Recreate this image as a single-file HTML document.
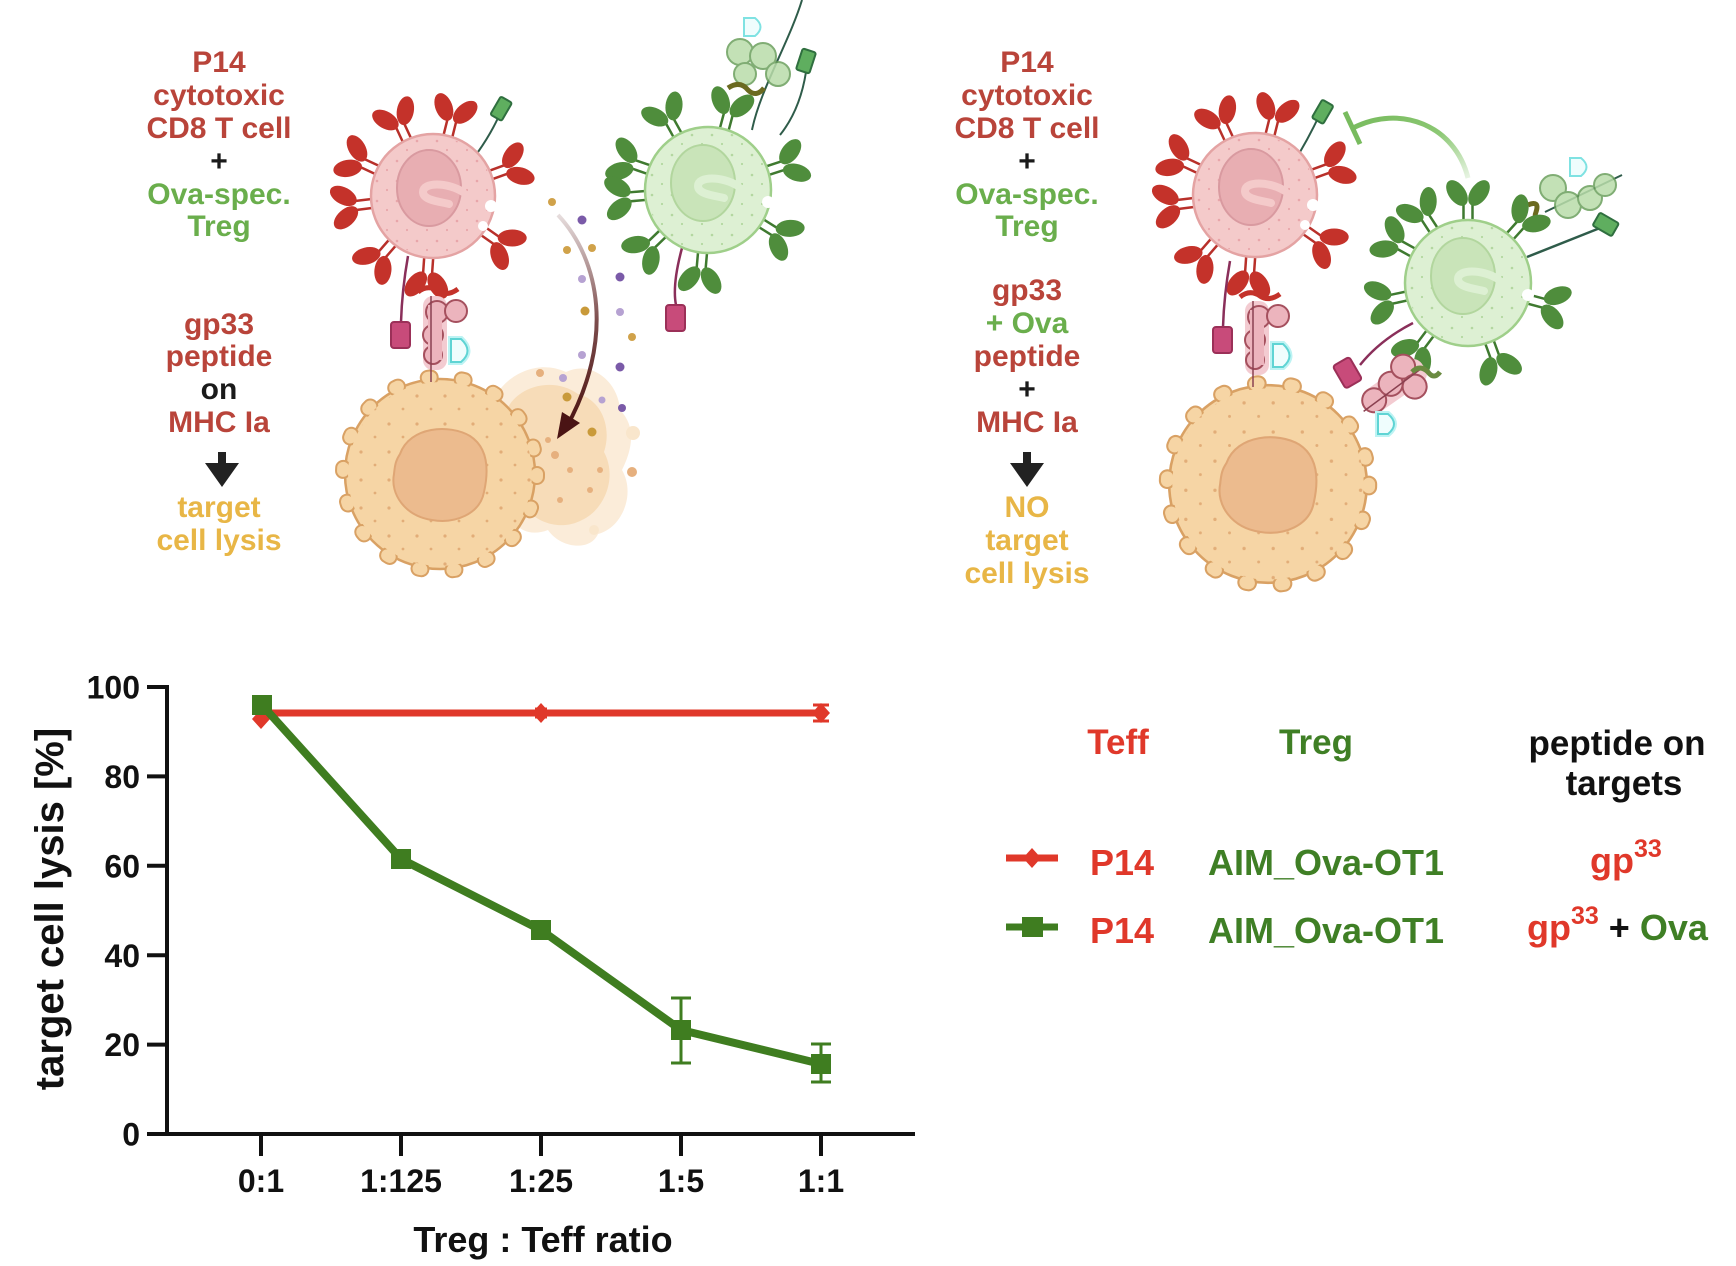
<!DOCTYPE html>
<html>
<head>
<meta charset="utf-8">
<style>
  html,body{margin:0;padding:0;background:#fff;}
  svg{display:block;}
</style>
</head>
<body>
<svg width="1736" height="1266" viewBox="0 0 1736 1266" xmlns="http://www.w3.org/2000/svg" font-family="'Liberation Sans', Arial, sans-serif" font-weight="bold">
<defs>
  <pattern id="pd" width="20" height="20" patternUnits="userSpaceOnUse"><circle cx="4" cy="5" r="1.3" fill="#e8a6aa"/><circle cx="14" cy="14" r="1.1" fill="#e8a6aa"/></pattern>
  <pattern id="pg" width="20" height="20" patternUnits="userSpaceOnUse"><circle cx="4" cy="5" r="1.3" fill="#b3d7a0"/><circle cx="14" cy="14" r="1.1" fill="#b3d7a0"/></pattern>
  <pattern id="pt" width="28" height="28" patternUnits="userSpaceOnUse"><circle cx="5" cy="6" r="1.6" fill="#e2ad78"/><circle cx="19" cy="19" r="1.4" fill="#e2ad78"/></pattern>
  <g id="abR">
    <rect x="-4.5" y="-20" width="9" height="20" fill="#fff"/>
    <path d="M-4.5,0 L-4.5,-20 M4.5,0 L4.5,-20" stroke="#b8302a" stroke-width="2.5" fill="none"/>
    <ellipse cx="-11" cy="-32" rx="8.5" ry="14.5" transform="rotate(-35 -11 -32)" fill="#c4322a"/>
    <ellipse cx="11" cy="-32" rx="8.5" ry="14.5" transform="rotate(35 11 -32)" fill="#c4322a"/>
  </g>
  <g id="abG">
    <rect x="-4.5" y="-20" width="9" height="20" fill="#fff"/>
    <path d="M-4.5,0 L-4.5,-20 M4.5,0 L4.5,-20" stroke="#3f7a30" stroke-width="2.5" fill="none"/>
    <ellipse cx="-11" cy="-32" rx="8.5" ry="14.5" transform="rotate(-35 -11 -32)" fill="#4f8d3c"/>
    <ellipse cx="11" cy="-32" rx="8.5" ry="14.5" transform="rotate(35 11 -32)" fill="#4f8d3c"/>
  </g>
  <g id="teff">
    <circle r="62" fill="#f4caca" stroke="#e4a3a3" stroke-width="2.5"/>
    <circle r="60" fill="url(#pd)"/>
    <ellipse cx="-4" cy="-8" rx="32" ry="38" fill="#e8aeb2" stroke="#d99aa0" stroke-width="2"/>
    <path d="M 30 -4 C 14 -14, -10 -14, -10 -4 C -10 5, 10 6, 16 8" stroke="#f4caca" stroke-width="8" fill="none" stroke-linecap="round"/>
    <circle cx="58" cy="10" r="6" fill="#fff"/>
    <circle cx="50" cy="30" r="5" fill="#fff"/>
  </g>
  <g id="treg">
    <circle r="63" fill="#ddf0d3" stroke="#9fcf8a" stroke-width="2.5"/>
    <circle r="61" fill="url(#pg)"/>
    <ellipse cx="-5" cy="-7" rx="32" ry="38" fill="#c9e4b9" stroke="#b2d69e" stroke-width="2"/>
    <path d="M 30 -4 C 14 -14, -10 -14, -10 -4 C -10 5, 10 6, 16 8" stroke="#ddf0d3" stroke-width="8" fill="none" stroke-linecap="round"/>
    <circle cx="60" cy="12" r="6" fill="#fff"/>
  </g>
  <g id="target">
    <circle r="95" fill="#f6d5a5" stroke="#d9a164" stroke-width="2.5"/>
    <circle r="97" fill="none" stroke="#d9a164" stroke-width="16" stroke-dasharray="3 31.2" stroke-linecap="round"/>
    <circle r="97" fill="none" stroke="#f6d5a5" stroke-width="12" stroke-dasharray="3 31.2" stroke-linecap="round"/>
    <circle r="92" fill="#f6d5a5"/>
    <circle r="92" fill="url(#pt)"/>
    <path d="M -40 -20 C -30 -48, 10 -50, 30 -38 C 50 -25, 48 0, 44 18 C 40 40, 15 50, -8 46 C -35 42, -50 20, -46 0 C -45 -10, -44 -14, -40 -20 Z" fill="#ecbb8e" stroke="#dfa675" stroke-width="2"/>
  </g>
  <g id="mhc">
    <rect x="423" y="296" width="24" height="74" rx="10" fill="#f3cbd1"/>
    <circle cx="437" cy="312" r="11" fill="#ecb4bd" stroke="#a5505e" stroke-width="2"/>
    <circle cx="456" cy="311" r="11" fill="#ecb4bd" stroke="#a5505e" stroke-width="2"/>
    <circle cx="433" cy="335" r="10" fill="#ecb4bd" stroke="#a5505e" stroke-width="2"/>
    <circle cx="433" cy="355" r="9" fill="#ecb4bd" stroke="#a5505e" stroke-width="2"/>
    <rect x="428" y="305" width="14" height="55" fill="#ecb4bd"/>
    <line x1="431" y1="296" x2="431" y2="382" stroke="#8a4050" stroke-width="1.5"/>
    <path d="M 418 292 Q 428 284 438 291 Q 447 297 458 289" stroke="#c4322a" stroke-width="5" fill="none"/>
    <path d="M 408 256 Q 402 290 401 322" stroke="#8a2f5a" stroke-width="2.5" fill="none"/>
    <rect x="391" y="322" width="19" height="26" rx="3" fill="#c84b7a" stroke="#9b3058" stroke-width="2"/>
    <path d="M 451 339 L 451 362 L 461 362 Q 474 351 461 339 Z" stroke="#bdf3f3" stroke-width="6" fill="none"/>
    <path d="M 451 339 L 451 362 L 461 362 Q 474 351 461 339 Z" stroke="#5fd4d4" stroke-width="2" fill="#effdfd"/>
  </g>
  <linearGradient id="arrG" x1="0" y1="0" x2="0" y2="1">
    <stop offset="0" stop-color="#5b1f1f" stop-opacity="0.15"/>
    <stop offset="0.5" stop-color="#5b1f1f" stop-opacity="0.8"/>
    <stop offset="1" stop-color="#4a1414"/>
  </linearGradient>
  <linearGradient id="inhG" x1="1" y1="1" x2="0" y2="0">
    <stop offset="0" stop-color="#8cc874" stop-opacity="0.2"/>
    <stop offset="0.5" stop-color="#8cc874"/>
    <stop offset="1" stop-color="#78bb5e"/>
  </linearGradient>
</defs>

<rect width="1736" height="1266" fill="#fff"/>

<!-- ============ LEFT ILLUSTRATION ============ -->
<path d="M 752 130 C 760 90, 790 40, 802 0" stroke="#2f5c4a" stroke-width="2" fill="none"/>
<path d="M 780 135 Q 800 110 806 72" stroke="#2f5c4a" stroke-width="2" fill="none"/>
<rect x="799" y="50" width="14" height="22" rx="2" fill="#5fae5f" stroke="#2f6f3f" stroke-width="2" transform="rotate(18 806 61)"/>
<g opacity="0.85">
  <circle cx="740" cy="52" r="13" fill="#b9dcaa" stroke="#6a9f5c" stroke-width="2"/>
  <circle cx="763" cy="56" r="13" fill="#b9dcaa" stroke="#6a9f5c" stroke-width="2"/>
  <circle cx="778" cy="74" r="12" fill="#b9dcaa" stroke="#6a9f5c" stroke-width="2"/>
  <circle cx="745" cy="74" r="11" fill="#b9dcaa" stroke="#6a9f5c" stroke-width="2"/>
</g>
<path d="M 744 18 L 744 36 L 755 36 Q 766 27 755 18 Z" stroke="#7fe2e2" stroke-width="2" fill="#effdfd"/>
<path d="M 728 88 Q 740 80 748 90 Q 756 98 764 88" stroke="#6b6a20" stroke-width="5" fill="none"/>

<g>
  <use href="#abG" transform="translate(708,190) rotate(-29) translate(0,-58)"/>
  <use href="#abG" transform="translate(708,190) rotate(15) translate(0,-58)"/>
  <use href="#abG" transform="translate(708,190) rotate(-71) translate(0,-58)"/>
  <use href="#abG" transform="translate(708,190) rotate(-95) translate(0,-58)"/>
  <use href="#abG" transform="translate(708,190) rotate(72) translate(0,-58)"/>
  <use href="#abG" transform="translate(708,190) rotate(122) translate(0,-58)"/>
  <use href="#abG" transform="translate(708,190) rotate(226) translate(0,-58)"/>
  <use href="#abG" transform="translate(708,190) rotate(185) translate(0,-58)"/>
</g>
<path d="M 682 248 Q 672 285 676 305" stroke="#8a2f5a" stroke-width="2.5" fill="none"/>
<rect x="666" y="305" width="19" height="26" rx="3" fill="#c84b7a" stroke="#9b3058" stroke-width="2"/>
<use href="#treg" transform="translate(708,190)"/>

<path d="M 478 152 Q 490 135 498 118" stroke="#2f5c4a" stroke-width="2" fill="none"/>
<rect x="495" y="98" width="13" height="21" rx="2" fill="#5fae5f" stroke="#2f6f3f" stroke-width="2" transform="rotate(30 501 108)"/>
<g>
  <use href="#abR" transform="translate(433,196) rotate(-25) translate(0,-57)"/>
  <use href="#abR" transform="translate(433,196) rotate(14) translate(0,-57)"/>
  <use href="#abR" transform="translate(433,196) rotate(-65) translate(0,-57)"/>
  <use href="#abR" transform="translate(433,196) rotate(-97) translate(0,-57)"/>
  <use href="#abR" transform="translate(433,196) rotate(70) translate(0,-57)"/>
  <use href="#abR" transform="translate(433,196) rotate(125) translate(0,-57)"/>
  <use href="#abR" transform="translate(433,196) rotate(221) translate(0,-57)"/>
  <use href="#abR" transform="translate(433,196) rotate(184) translate(0,-57)"/>
</g>
<use href="#teff" transform="translate(433,196)"/>

<!-- lysed fragment -->
<path d="M 498 392 C 512 372, 540 360, 566 372 C 590 360, 618 380, 620 410 C 640 430, 628 458, 622 470 C 636 494, 622 528, 598 534 C 590 552, 560 548, 548 530 C 522 540, 506 520, 510 500 C 488 488, 484 462, 494 444 C 484 424, 488 404, 498 392 Z" fill="#fbecd9"/>
<path d="M 510 404 C 524 384, 556 378, 578 394 C 602 400, 612 428, 604 452 C 618 478, 604 510, 582 520 C 560 532, 532 522, 522 502 C 504 490, 498 464, 506 446 C 500 428, 504 414, 510 404 Z" fill="#f7dcb8"/>
<circle cx="633" cy="433" r="7" fill="#f9e6cc"/>
<circle cx="594" cy="530" r="5" fill="#f9e6cc"/>
<g fill="#e6b07e">
  <circle cx="540" cy="373" r="4"/><circle cx="548" cy="440" r="3"/><circle cx="555" cy="455" r="4"/>
  <circle cx="570" cy="470" r="3"/><circle cx="530" cy="480" r="3"/><circle cx="590" cy="490" r="3"/>
  <circle cx="560" cy="500" r="3"/><circle cx="632" cy="472" r="5"/><circle cx="600" cy="470" r="3"/>
</g>

<use href="#target" transform="translate(440,474)"/>
<use href="#mhc"/>

<g>
  <circle cx="552" cy="202" r="4" fill="#d0a24a"/>
  <circle cx="582" cy="220" r="4.5" fill="#7a5aa8"/>
  <circle cx="567" cy="250" r="4" fill="#d0a24a"/>
  <circle cx="592" cy="248" r="4" fill="#d0a24a"/>
  <circle cx="582" cy="279" r="4" fill="#b6a2d2"/>
  <circle cx="620" cy="277" r="4.5" fill="#7a5aa8"/>
  <circle cx="585" cy="311" r="4.5" fill="#c99a3a"/>
  <circle cx="620" cy="312" r="4" fill="#b6a2d2"/>
  <circle cx="632" cy="337" r="4" fill="#d0a24a"/>
  <circle cx="582" cy="355" r="4" fill="#b6a2d2"/>
  <circle cx="620" cy="367" r="4.5" fill="#7a5aa8"/>
  <circle cx="563" cy="378" r="4" fill="#b6a2d2"/>
  <circle cx="567" cy="397" r="4.5" fill="#c99a3a"/>
  <circle cx="602" cy="400" r="3.5" fill="#b6a2d2"/>
  <circle cx="622" cy="408" r="4" fill="#7a5aa8"/>
  <circle cx="592" cy="432" r="4.5" fill="#c99a3a"/>
</g>
<path d="M 558 215 C 600 260, 615 340, 566 428" stroke="url(#arrG)" stroke-width="4" fill="none"/>
<path d="M 557 439 L 562 412 L 580 423 Z" fill="#4a1414"/>

<g font-size="30" text-anchor="middle">
  <text x="219" y="72" fill="#b9443a">P14</text>
  <text x="219" y="105" fill="#b9443a">cytotoxic</text>
  <text x="219" y="138" fill="#b9443a">CD8 T cell</text>
  <text x="219" y="171" fill="#1a1a1a">+</text>
  <text x="219" y="204" fill="#6aae4c">Ova-spec.</text>
  <text x="219" y="236" fill="#6aae4c">Treg</text>
  <text x="219" y="334" fill="#b9443a">gp33</text>
  <text x="219" y="366" fill="#b9443a">peptide</text>
  <text x="219" y="399" fill="#1a1a1a">on</text>
  <text x="219" y="432" fill="#b9443a">MHC Ia</text>
  <text x="219" y="517" fill="#e8b646">target</text>
  <text x="219" y="550" fill="#e8b646">cell lysis</text>
</g>
<path d="M 218 452 L 226 452 L 226 463 L 239 463 L 222 487 L 205 463 L 218 463 Z" fill="#222"/>

<!-- ============ RIGHT ILLUSTRATION ============ -->
<path d="M 1300 152 Q 1310 135 1318 118" stroke="#2f5c4a" stroke-width="2" fill="none"/>
<rect x="1316" y="101" width="13" height="21" rx="2" fill="#5fae5f" stroke="#2f6f3f" stroke-width="2" transform="rotate(30 1322 112)"/>
<g>
  <use href="#abR" transform="translate(1255,195) rotate(-25) translate(0,-57)"/>
  <use href="#abR" transform="translate(1255,195) rotate(14) translate(0,-57)"/>
  <use href="#abR" transform="translate(1255,195) rotate(-65) translate(0,-57)"/>
  <use href="#abR" transform="translate(1255,195) rotate(-97) translate(0,-57)"/>
  <use href="#abR" transform="translate(1255,195) rotate(70) translate(0,-57)"/>
  <use href="#abR" transform="translate(1255,195) rotate(125) translate(0,-57)"/>
  <use href="#abR" transform="translate(1255,195) rotate(221) translate(0,-57)"/>
  <use href="#abR" transform="translate(1255,195) rotate(184) translate(0,-57)"/>
</g>
<use href="#teff" transform="translate(1255,195)"/>

<path d="M 1468 178 C 1455 125, 1400 104, 1353 128" stroke="url(#inhG)" stroke-width="5" fill="none"/>
<line x1="1345" y1="112" x2="1360" y2="144" stroke="#78bb5e" stroke-width="5"/>

<path d="M 1527 257 Q 1570 240 1600 228" stroke="#2f5c4a" stroke-width="2.5" fill="none"/>
<rect x="1598" y="213" width="15" height="22" rx="2" fill="#5fae5f" stroke="#2f6f3f" stroke-width="2" transform="rotate(-60 1606 224)"/>
<path d="M 1545 212 L 1622 175" stroke="#2f5c4a" stroke-width="2" fill="none"/>
<g opacity="0.85">
  <circle cx="1553" cy="188" r="13" fill="#b9dcaa" stroke="#6a9f5c" stroke-width="2"/>
  <circle cx="1568" cy="205" r="13" fill="#b9dcaa" stroke="#6a9f5c" stroke-width="2"/>
  <circle cx="1590" cy="198" r="12" fill="#b9dcaa" stroke="#6a9f5c" stroke-width="2"/>
  <circle cx="1605" cy="185" r="11" fill="#b9dcaa" stroke="#6a9f5c" stroke-width="2"/>
</g>
<path d="M 1570 158 L 1570 176 L 1581 176 Q 1592 167 1581 158 Z" stroke="#7fe2e2" stroke-width="2" fill="#effdfd"/>
<path d="M 1528 205 Q 1540 200 1536 212 Q 1532 222 1546 222" stroke="#6b6a20" stroke-width="5" fill="none"/>
<g>
  <use href="#abG" transform="translate(1468,283) rotate(0) translate(0,-58)"/>
  <use href="#abG" transform="translate(1468,283) rotate(-33) translate(0,-58)"/>
  <use href="#abG" transform="translate(1468,283) rotate(-61) translate(0,-58)"/>
  <use href="#abG" transform="translate(1468,283) rotate(-102) translate(0,-58)"/>
  <use href="#abG" transform="translate(1468,283) rotate(217) translate(0,-58)"/>
  <use href="#abG" transform="translate(1468,283) rotate(160) translate(0,-58)"/>
  <use href="#abG" transform="translate(1468,283) rotate(105) translate(0,-58)"/>
  <use href="#abG" transform="translate(1468,283) rotate(42) translate(0,-58)"/>
</g>
<path d="M 1413 323 Q 1380 340 1360 365" stroke="#8a2f5a" stroke-width="2.5" fill="none"/>
<rect x="1338" y="360" width="19" height="26" rx="3" fill="#c84b7a" stroke="#9b3058" stroke-width="2" transform="rotate(-30 1347 373)"/>
<use href="#treg" transform="translate(1468,283)"/>

<use href="#target" transform="translate(1268,484) scale(1.04)"/>
<use href="#mhc" transform="translate(822,5)"/>

<g transform="rotate(-35 1390 388)">
  <rect x="1360" y="376" width="70" height="26" rx="10" fill="#f3cbd1"/>
  <circle cx="1370" cy="389" r="12" fill="#ecb4bd" stroke="#a5505e" stroke-width="2"/>
  <circle cx="1393" cy="385" r="12" fill="#ecb4bd" stroke="#a5505e" stroke-width="2"/>
  <circle cx="1413" cy="378" r="12" fill="#ecb4bd" stroke="#a5505e" stroke-width="2"/>
  <circle cx="1411" cy="401" r="12" fill="#ecb4bd" stroke="#a5505e" stroke-width="2"/>
  <line x1="1355" y1="392" x2="1430" y2="390" stroke="#8a4050" stroke-width="1.5"/>
</g>
<path d="M 1412 372 Q 1420 364 1428 372 Q 1434 380 1440 372" stroke="#6a8a40" stroke-width="5" fill="none"/>
<path d="M 1378 414 L 1378 434 L 1388 434 Q 1400 424 1388 414 Z" stroke="#bdf3f3" stroke-width="6" fill="none"/>
<path d="M 1378 414 L 1378 434 L 1388 434 Q 1400 424 1388 414 Z" stroke="#5fd4d4" stroke-width="2" fill="#effdfd"/>

<g font-size="30" text-anchor="middle">
  <text x="1027" y="72" fill="#b9443a">P14</text>
  <text x="1027" y="105" fill="#b9443a">cytotoxic</text>
  <text x="1027" y="138" fill="#b9443a">CD8 T cell</text>
  <text x="1027" y="171" fill="#1a1a1a">+</text>
  <text x="1027" y="204" fill="#6aae4c">Ova-spec.</text>
  <text x="1027" y="236" fill="#6aae4c">Treg</text>
  <text x="1027" y="300" fill="#b9443a">gp33</text>
  <text x="1027" y="333" fill="#6aae4c">+ Ova</text>
  <text x="1027" y="366" fill="#b9443a">peptide</text>
  <text x="1027" y="399" fill="#1a1a1a">+</text>
  <text x="1027" y="432" fill="#b9443a">MHC Ia</text>
  <text x="1027" y="517" fill="#e8b646">NO</text>
  <text x="1027" y="550" fill="#e8b646">target</text>
  <text x="1027" y="583" fill="#e8b646">cell lysis</text>
</g>
<path d="M 1023 452 L 1031 452 L 1031 463 L 1044 463 L 1027 487 L 1010 463 L 1023 463 Z" fill="#222"/>

<!-- ============ CHART ============ -->
<g stroke="#111" stroke-width="4" fill="none" stroke-linecap="butt">
  <line x1="167" y1="685" x2="167" y2="1136"/>
  <line x1="147" y1="1134" x2="915" y2="1134"/>
  <line x1="147" y1="687" x2="167" y2="687"/>
  <line x1="147" y1="776.4" x2="167" y2="776.4"/>
  <line x1="147" y1="865.8" x2="167" y2="865.8"/>
  <line x1="147" y1="955.2" x2="167" y2="955.2"/>
  <line x1="147" y1="1044.6" x2="167" y2="1044.6"/>
  <line x1="261" y1="1134" x2="261" y2="1156"/>
  <line x1="401" y1="1134" x2="401" y2="1156"/>
  <line x1="541" y1="1134" x2="541" y2="1156"/>
  <line x1="681" y1="1134" x2="681" y2="1156"/>
  <line x1="821" y1="1134" x2="821" y2="1156"/>
</g>
<g font-size="32" fill="#111" text-anchor="end">
  <text x="140" y="698.5">100</text>
  <text x="140" y="788">80</text>
  <text x="140" y="877.5">60</text>
  <text x="140" y="967">40</text>
  <text x="140" y="1056">20</text>
  <text x="140" y="1145.5">0</text>
</g>
<g font-size="32" fill="#111" text-anchor="middle">
  <text x="261" y="1192">0:1</text>
  <text x="401" y="1192">1:125</text>
  <text x="541" y="1192">1:25</text>
  <text x="681" y="1192">1:5</text>
  <text x="821" y="1192">1:1</text>
</g>
<text x="543" y="1252" font-size="36" fill="#111" text-anchor="middle">Treg : Teff ratio</text>
<text transform="translate(63,909) rotate(-90)" font-size="40" fill="#111" text-anchor="middle">target cell lysis [%]</text>

<polyline points="261,713 541,713 821,713" stroke="#e0382a" stroke-width="7" fill="none"/>
<g stroke="#e0382a" stroke-width="3">
  <line x1="821" y1="705" x2="821" y2="721"/>
  <line x1="813" y1="705" x2="829" y2="705"/>
  <line x1="813" y1="721" x2="829" y2="721"/>
  <line x1="535" y1="709" x2="547" y2="709"/>
  <line x1="535" y1="717" x2="547" y2="717"/>
</g>
<g fill="#e0382a">
  <path d="M261,709 L270,719 L261,729 L252,719 Z"/>
  <path d="M541,703 L550,713 L541,723 L532,713 Z"/>
  <path d="M821,703 L830,713 L821,723 L812,713 Z"/>
</g>

<g stroke="#3f7d20" stroke-width="3">
  <line x1="681" y1="998" x2="681" y2="1063"/>
  <line x1="671" y1="998" x2="691" y2="998"/>
  <line x1="671" y1="1063" x2="691" y2="1063"/>
  <line x1="821" y1="1044" x2="821" y2="1082"/>
  <line x1="811" y1="1044" x2="831" y2="1044"/>
  <line x1="811" y1="1082" x2="831" y2="1082"/>
</g>
<polyline points="262,705 401,859 541,930 681,1030 821,1064" stroke="#3f7d20" stroke-width="8" fill="none" stroke-linejoin="round"/>
<g fill="#3f7d20">
  <rect x="252" y="695" width="20" height="20"/>
  <rect x="391" y="849" width="20" height="20"/>
  <rect x="531" y="920" width="20" height="20"/>
  <rect x="671" y="1020" width="20" height="20"/>
  <rect x="811" y="1054" width="20" height="20"/>
</g>

<!-- ============ LEGEND ============ -->
<g font-size="35">
  <text x="1118" y="754" fill="#e0382a" text-anchor="middle">Teff</text>
  <text x="1316" y="754" fill="#3f7f25" text-anchor="middle">Treg</text>
  <text x="1617" y="755" fill="#111" text-anchor="middle">peptide on</text>
  <text x="1624" y="795" fill="#111" text-anchor="middle">targets</text>
</g>
<line x1="1006" y1="858" x2="1058" y2="858" stroke="#e0382a" stroke-width="7"/>
<path d="M1032,848 L1041,858 L1032,868 L1023,858 Z" fill="#e0382a"/>
<line x1="1006" y1="927" x2="1058" y2="927" stroke="#3f7d20" stroke-width="7"/>
<rect x="1022" y="917" width="21" height="20" fill="#3f7d20"/>
<g font-size="36">
  <text x="1090" y="875" fill="#e0382a">P14</text>
  <text x="1208" y="875" fill="#3f7f25">AIM_Ova-OT1</text>
  <text x="1090" y="943" fill="#e0382a">P14</text>
  <text x="1208" y="943" fill="#3f7f25">AIM_Ova-OT1</text>
  <text x="1590" y="873" fill="#e0382a">gp<tspan font-size="25" dy="-16">33</tspan></text>
  <text x="1527" y="940" fill="#e0382a">gp<tspan font-size="25" dy="-16">33</tspan><tspan dy="16" fill="#111"> + </tspan><tspan fill="#3f7f25">Ova</tspan></text>
</g>
</svg>
</body>
</html>
